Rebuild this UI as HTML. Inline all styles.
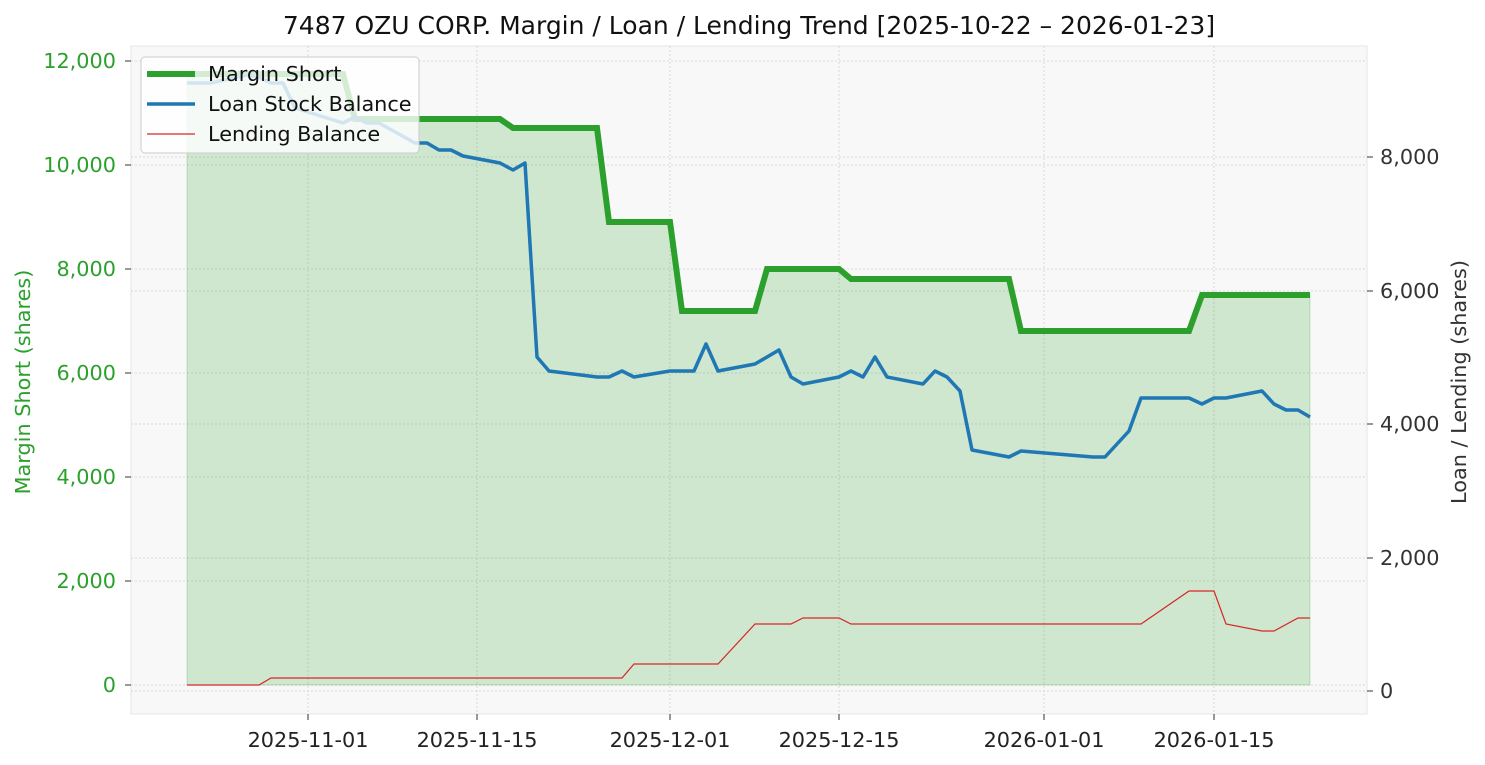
<!DOCTYPE html>
<html><head><meta charset="utf-8"><style>
body{margin:0;background:#fff;}
svg{display:block;font-family:"DejaVu Sans","Liberation Sans",sans-serif;}
</style></head><body>
<svg width="1485" height="765" viewBox="0 0 1485 765" xmlns="http://www.w3.org/2000/svg">
<rect x="131" y="46" width="1236" height="668" fill="#f8f8f8" stroke="#e6e6e6"/>
<g stroke="#d8d8d8" stroke-dasharray="2,2" stroke-width="1">
<line x1="131" x2="1367" y1="61" y2="61"/><line x1="131" x2="1367" y1="165" y2="165"/><line x1="131" x2="1367" y1="269" y2="269"/><line x1="131" x2="1367" y1="373" y2="373"/><line x1="131" x2="1367" y1="477" y2="477"/><line x1="131" x2="1367" y1="581" y2="581"/><line x1="131" x2="1367" y1="685" y2="685"/>
<line x1="131" x2="1367" y1="157" y2="157"/><line x1="131" x2="1367" y1="291" y2="291"/><line x1="131" x2="1367" y1="424" y2="424"/><line x1="131" x2="1367" y1="558" y2="558"/><line x1="131" x2="1367" y1="691" y2="691"/>
<line y1="46" y2="714" x1="308" x2="308"/><line y1="46" y2="714" x1="477" x2="477"/><line y1="46" y2="714" x1="670" x2="670"/><line y1="46" y2="714" x1="839" x2="839"/><line y1="46" y2="714" x1="1044" x2="1044"/><line y1="46" y2="714" x1="1214" x2="1214"/>
</g>
<polygon fill="#2ca02c" fill-opacity="0.2" stroke="#2ca02c" stroke-opacity="0.25" points="187,685 187,74 343,74 355,119 500,119 513,128 597,128 609,222 670,222 682,311 755,311 767,269 839,269 851,279 1009,279 1021,331 1189,331 1202,295 1310,295 1310,685"/>
<polyline fill="none" stroke="#2ca02c" stroke-width="6" points="187,74 343,74 355,119 500,119 513,128 597,128 609,222 670,222 682,311 755,311 767,269 839,269 851,279 1009,279 1021,331 1189,331 1202,295 1310,295"/>
<polyline fill="none" stroke="#d62728" stroke-width="1.2" points="187,685 259,685 271,678 622,678 634,664 718,664 755,624 791,624 803,618 839,618 851,624 1141,624 1189,591 1214,591 1226,624 1262,631 1274,631 1298,618 1310,618"/>
<polyline fill="none" stroke="#1f77b4" stroke-width="3.5" stroke-linejoin="round" points="187,83 211,83 247,75 259,77 271,83 283,83 295,108 343,123 355,117 367,123 379,123 415,143 427,143 439,150 451,150 463,156 500,163 513,170 525,163 537,357 549,371 597,377 609,377 622,371 634,377 670,371 694,371 706,344 718,371 755,364 779,350 791,377 803,384 839,377 851,371 863,377 875,357 887,377 923,384 935,371 947,377 960,391 972,450 1009,457 1021,451 1093,457 1105,457 1129,431 1141,398 1189,398 1202,404 1214,398 1226,398 1262,391 1274,404 1286,410 1298,410 1310,417"/>
<g font-size="20.8" fill="#2ca02c" text-anchor="end">
<text x="116" y="68">12,000</text><text x="116" y="172">10,000</text><text x="116" y="276">8,000</text><text x="116" y="380">6,000</text><text x="116" y="484">4,000</text><text x="116" y="588">2,000</text><text x="116" y="692">0</text>
</g>
<g stroke="#333"><line x1="125" x2="131" y1="61" y2="61"/><line x1="125" x2="131" y1="165" y2="165"/><line x1="125" x2="131" y1="269" y2="269"/><line x1="125" x2="131" y1="373" y2="373"/><line x1="125" x2="131" y1="477" y2="477"/><line x1="125" x2="131" y1="581" y2="581"/><line x1="125" x2="131" y1="685" y2="685"/>
<line x1="1367" x2="1373" y1="157" y2="157"/><line x1="1367" x2="1373" y1="291" y2="291"/><line x1="1367" x2="1373" y1="424" y2="424"/><line x1="1367" x2="1373" y1="558" y2="558"/><line x1="1367" x2="1373" y1="691" y2="691"/>
<line y1="714" y2="720" x1="308" x2="308"/><line y1="714" y2="720" x1="477" x2="477"/><line y1="714" y2="720" x1="670" x2="670"/><line y1="714" y2="720" x1="839" x2="839"/><line y1="714" y2="720" x1="1044" x2="1044"/><line y1="714" y2="720" x1="1214" x2="1214"/></g>
<g font-size="20.8" fill="#333">
<text x="1380" y="164">8,000</text><text x="1380" y="298">6,000</text><text x="1380" y="431">4,000</text><text x="1380" y="565">2,000</text><text x="1380" y="698">0</text>
</g>
<g font-size="20.8" fill="#222" text-anchor="middle">
<text x="308" y="747">2025-11-01</text><text x="477" y="747">2025-11-15</text><text x="670" y="747">2025-12-01</text><text x="839" y="747">2025-12-15</text><text x="1044" y="747">2026-01-01</text><text x="1214" y="747">2026-01-15</text>
</g>
<text x="30" y="382" font-size="20.8" fill="#2ca02c" text-anchor="middle" transform="rotate(-90 30 382)">Margin Short (shares)</text>
<text x="1466" y="382" font-size="20.8" fill="#333" text-anchor="middle" transform="rotate(-90 1466 382)">Loan / Lending (shares)</text>
<text x="749" y="34" font-size="25" fill="#111" text-anchor="middle">7487 OZU CORP. Margin / Loan / Lending Trend [2025-10-22 – 2026-01-23]</text>
<rect x="141" y="57" width="278" height="96" rx="4" fill="#fff" fill-opacity="0.8" stroke="#ccc"/>
<line x1="147" x2="195" y1="74" y2="74" stroke="#2ca02c" stroke-width="6"/>
<line x1="147" x2="195" y1="104" y2="104" stroke="#1f77b4" stroke-width="3.5"/>
<line x1="147" x2="195" y1="134" y2="134" stroke="#d62728" stroke-width="1.2"/>
<g font-size="20.8" fill="#111"><text x="208" y="81">Margin Short</text><text x="208" y="111">Loan Stock Balance</text><text x="208" y="141">Lending Balance</text></g>
</svg>
</body></html>
